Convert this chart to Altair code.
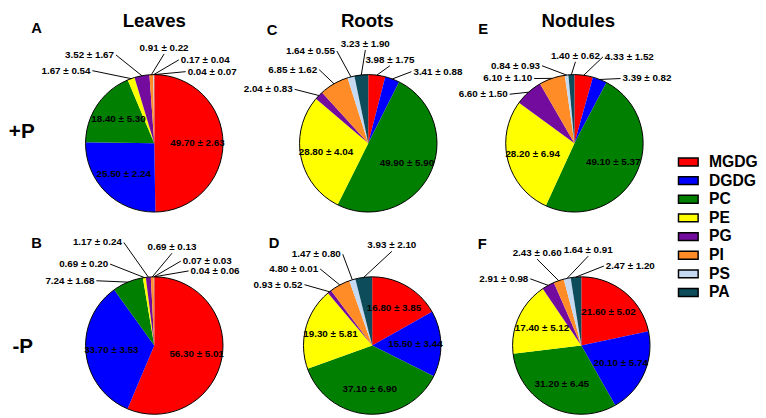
import math
import altair as alt
import pandas as pd

# ---------------- data ----------------
lipids = ["MGDG", "DGDG", "PC", "PE", "PG", "PI", "PS", "PA"]
lipid_colors = ["#FF0000", "#0000FF", "#007F00", "#FFFF00",
                "#730C9E", "#FF8C26", "#C5DAF2", "#0D4C5B"]
tissues = ["Leaves", "Roots", "Nodules"]
conditions = ["+P", "-P"]
panel_letters = ["A", "B", "C", "D", "E", "F"]

leaves_plus_mean = [49.70, 25.50, 18.40, 1.67, 3.52, 0.91, 0.17, 0.04]
leaves_plus_sd = [2.63, 2.24, 5.30, 0.54, 1.67, 0.22, 0.04, 0.07]
leaves_minus_mean = [56.30, 33.70, 7.24, 0.69, 1.17, 0.69, 0.07, 0.04]
leaves_minus_sd = [5.01, 3.53, 1.68, 0.20, 0.24, 0.13, 0.03, 0.06]
roots_plus_mean = [3.98, 3.41, 49.90, 28.80, 2.04, 6.85, 1.64, 3.23]
roots_plus_sd = [1.75, 0.88, 5.90, 4.04, 0.83, 1.62, 0.55, 1.90]
roots_minus_mean = [16.80, 15.50, 37.10, 19.30, 0.93, 4.80, 1.47, 3.93]
roots_minus_sd = [3.85, 3.44, 6.90, 5.81, 0.52, 0.01, 0.80, 2.10]
nodules_plus_mean = [4.33, 3.39, 49.10, 28.20, 6.60, 6.10, 0.84, 1.40]
nodules_plus_sd = [1.52, 0.82, 5.37, 6.94, 1.50, 1.10, 0.93, 0.62]
nodules_minus_mean = [21.60, 20.10, 31.20, 17.40, 2.91, 2.43, 1.64, 2.47]
nodules_minus_sd = [5.02, 5.74, 6.45, 5.12, 0.98, 0.60, 0.91, 1.20]

panel_means = [leaves_plus_mean, leaves_minus_mean, roots_plus_mean,
               roots_minus_mean, nodules_plus_mean, nodules_minus_mean]
panel_sds = [leaves_plus_sd, leaves_minus_sd, roots_plus_sd,
             roots_minus_sd, nodules_plus_sd, nodules_minus_sd]

# ---------------- layout (page coordinates) ----------------
panel_cx = [150, 150, 368, 372, 578, 585]
panel_cy = [137, 343, 137, 343, 137, 343]
letter_x = [30, 30, 270, 272, 485, 484]
letter_y = [20, 239, 22, 239, 21, 240]
title_x = [150, 367, 582]
title_y = 12
cond_x = [15, 16]
cond_y = [126, 345]
PIE_R = 70
INSIDE_R = 44
INSIDE_MIN = 10

# leader-line end offsets from pie centre and label side
outside_layout = {
    "A": {"PA": (32, -73, "left"), "PS": (25, -85, "left"), "PI": (10, -91, "center"),
          "PG": (-39, -90, "right"), "PE": (-63, -74, "right")},
    "B": {"PA": (35, -76, "left"), "PS": (27, -86, "left"), "PI": (18, -94, "center"),
          "PG": (-31, -105, "right"), "PE": (-45, -83, "right"), "PC": (-59, -66, "right")},
    "C": {"MGDG": (22, -79, "center"), "DGDG": (44, -73, "left"), "PA": (-3, -95, "center"),
          "PS": (-32, -94, "right"), "PI": (-50, -75, "right"), "PG": (-75, -55, "right")},
    "D": {"PA": (20, -96, "center"), "PS": (-30, -93, "right"), "PI": (-53, -78, "right"),
          "PG": (-69, -62, "right")},
    "E": {"MGDG": (29, -88, "left"), "DGDG": (47, -66, "left"), "PA": (1, -83, "center"),
          "PS": (-33, -79, "right"), "PI": (-41, -66, "right"), "PG": (-66, -50, "right")},
    "F": {"PA": (23, -81, "left"), "PS": (7, -91, "center"), "PI": (-45, -88, "center"),
          "PG": (-52, -68, "right")},
}

FONT = "Liberation Sans, Arial, sans-serif"
NARROW = "Liberation Sans Narrow, Arial Narrow, Liberation Sans, sans-serif"

# ---------------- build tables ----------------
slice_rows, inside_rows, outside_rows, rule_rows, panel_rows = [], [], [], [], []
for p, letter in enumerate(panel_letters):
    means, sds = panel_means[p], panel_sds[p]
    total = sum(means)
    cx, cy = panel_cx[p], panel_cy[p]
    panel_rows.append({"panel": letter, "cx": cx, "cy": cy, "t0": 0.0, "t1": 1.0,
                       "lx": letter_x[p], "ly": letter_y[p]})
    cum = 0.0
    for lip, m, s in zip(lipids, means, sds):
        t0 = cum / total
        cum += m
        t1 = cum / total
        tm = (t0 + t1) / 2
        ang = 2 * math.pi * tm
        label = f"{m:.2f} \u00b1 {s:.2f}"
        slice_rows.append({"panel": letter, "lipid": lip, "cx": cx, "cy": cy,
                           "t0": t0, "t1": t1, "value": m})
        if m >= INSIDE_MIN:
            inside_rows.append({"x": cx + INSIDE_R * math.sin(ang),
                                "y": cy - INSIDE_R * math.cos(ang), "label": label})
        else:
            dx, dy, side = outside_layout[letter][lip]
            ex, ey = cx + dx, cy + dy
            rule_rows.append({"x1": cx + PIE_R * math.sin(ang), "y1": cy - PIE_R * math.cos(ang),
                              "x2": ex, "y2": ey})
            if side == "left":
                tx, ty = ex + 2, ey
            elif side == "right":
                tx, ty = ex - 2, ey
            else:
                tx, ty = ex, ey - 6
            outside_rows.append({"x": tx, "y": ty, "label": label, "side": side})

slices = pd.DataFrame(slice_rows)
inside = pd.DataFrame(inside_rows)
outside = pd.DataFrame(outside_rows)
rules = pd.DataFrame(rule_rows)
panels = pd.DataFrame(panel_rows)
titles = pd.DataFrame({"x": title_x, "y": [title_y] * 3, "t": tissues})
conds = pd.DataFrame({"x": cond_x, "y": cond_y, "t": conditions})

# ---------------- scales ----------------
xs = alt.Scale(domain=[8, 758], nice=False, zero=False)
ys = alt.Scale(domain=[8, 410], nice=False, zero=False, reverse=True)
ts = alt.Scale(domain=[0, 1], range=[0, 2 * math.pi])


def X(f):
    return alt.X(f, type="quantitative", scale=xs, axis=None)


def Y(f):
    return alt.Y(f, type="quantitative", scale=ys, axis=None)


arcs = alt.Chart(slices).mark_arc(radius=PIE_R).encode(
    x=X("cx"), y=Y("cy"),
    theta=alt.Theta("t0:Q", scale=ts, stack=False),
    theta2="t1:Q",
    color=alt.Color(
        "lipid:N",
        scale=alt.Scale(domain=lipids, range=lipid_colors),
        legend=alt.Legend(
            title=None, orient="none", legendX=675, legendY=137,
            symbolType="M-1,-0.4H1V0.4H-1Z", symbolSize=400,
            symbolStrokeColor="black", symbolStrokeWidth=1.5, symbolOpacity=1,
            labelFont=FONT, labelFontSize=16, labelFontWeight="bold",
            labelColor="black", labelOffset=10, rowPadding=0, padding=0,
        ),
    ),
)

outline = alt.Chart(panels).mark_arc(radius=PIE_R, filled=False, stroke="black",
                                     strokeWidth=1).encode(
    x=X("cx"), y=Y("cy"),
    theta=alt.Theta("t0:Q", scale=ts, stack=False), theta2="t1:Q",
)

leaders = alt.Chart(rules).mark_rule(color="black", strokeWidth=1).encode(
    x=X("x1"), y=Y("y1"), x2="x2:Q", y2="y2:Q")

inside_text = alt.Chart(inside).mark_text(
    font=NARROW, fontSize=10, fontWeight="bold", color="black",
    align="center", baseline="middle").encode(x=X("x"), y=Y("y"), text="label:N")

outside_layers = []
for side in ["left", "right", "center"]:
    outside_layers.append(
        alt.Chart(outside).transform_filter(alt.datum.side == side).mark_text(
            font=NARROW, fontSize=10, fontWeight="bold", color="black",
            align=side, baseline="middle").encode(x=X("x"), y=Y("y"), text="label:N"))

title_text = alt.Chart(titles).mark_text(
    font=FONT, fontSize=19, fontWeight="bold", color="black",
    align="center", baseline="middle").encode(x=X("x"), y=Y("y"), text="t:N")

cond_text = alt.Chart(conds).mark_text(
    font=FONT, fontSize=21, fontWeight="bold", color="black",
    align="center", baseline="middle").encode(x=X("x"), y=Y("y"), text="t:N")

letter_text = alt.Chart(panels).mark_text(
    font=FONT, fontSize=15, fontWeight="bold", color="black",
    align="center", baseline="middle").encode(x=X("lx"), y=Y("ly"), text="panel:N")

chart = alt.layer(
    arcs, outline, leaders, inside_text, *outside_layers,
    title_text, cond_text, letter_text,
).properties(width=750, height=402, padding=0).configure_view(strokeWidth=0)

chart.save("out.html", embed_options={"renderer": "svg", "actions": False})
